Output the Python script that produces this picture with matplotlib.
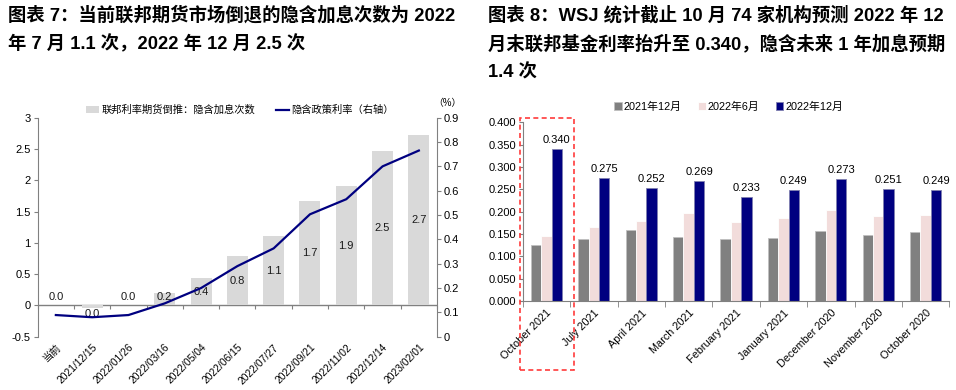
import matplotlib
matplotlib.use('Agg')
import matplotlib.pyplot as plt
from matplotlib.patches import Rectangle, Patch
from matplotlib.lines import Line2D
import numpy as np

plt.rcParams['font.family'] = ['Liberation Sans', 'Noto Sans CJK SC']

# ---------------- Left chart data ----------------
dates = ['当前', '2021/12/15', '2022/01/26', '2022/03/16', '2022/05/04', '2022/06/15',
         '2022/07/27', '2022/09/21', '2022/11/02', '2022/12/14', '2023/02/01']
hikes = [0.0, -0.04, 0.0, 0.20, 0.44, 0.79, 1.11, 1.67, 1.91, 2.47, 2.73]
implied_rate = [0.089, 0.080, 0.089, 0.137, 0.200, 0.290, 0.363, 0.503, 0.565, 0.700, 0.765]
left_yticks = [-0.5, 0, 0.5, 1, 1.5, 2, 2.5, 3]
right_yticks = [0, 0.1, 0.2, 0.3, 0.4, 0.5, 0.6, 0.7, 0.8, 0.9]

# ---------------- Right chart data ----------------
meetings = ['October 2021', 'July 2021', 'April 2021', 'March 2021', 'February 2021',
            'January 2021', 'December 2020', 'November 2020', 'October 2020']
dec2021 = [0.125, 0.138, 0.160, 0.143, 0.139, 0.142, 0.157, 0.147, 0.154]
jun2022 = [0.146, 0.166, 0.179, 0.198, 0.178, 0.186, 0.204, 0.190, 0.193]
dec2022 = [0.340, 0.275, 0.252, 0.269, 0.233, 0.249, 0.273, 0.251, 0.249]
series_names = ['2021年12月', '2022年6月', '2022年12月']
series_colors = ['#808080', '#F2DCDB', '#000080']

GRAY = '#808080'
W, H = 956, 390
fig = plt.figure(figsize=(W / 100, H / 100), dpi=100)

# Titles
title_kw = dict(fontsize=13.2, fontweight='bold', family=['Liberation Sans', 'Noto Sans CJK SC'],
                va='center', ha='left', color='#000000')
fig.text(8 / W, 1 - 15 / H, '图表 7：当前联邦期货市场倒退的隐含加息次数为 2022', **title_kw)
fig.text(8 / W, 1 - 44 / H, '年 7 月 1.1 次，2022 年 12 月 2.5 次', **title_kw)
fig.text(488 / W, 1 - 15 / H, '图表 8：WSJ 统计截止 10 月 74 家机构预测 2022 年 12', **title_kw)
fig.text(488 / W, 1 - 44 / H, '月末联邦基金利率抬升至 0.340，隐含未来 1 年加息预期', **title_kw)
fig.text(488 / W, 1 - 73 / H, '1.4 次', **title_kw)

# ---------------- Left chart ----------------
axL = fig.add_axes([37.7 / W, 1 - 336.7 / H, (437 - 37.7) / W, (336.7 - 117.7) / H])
x = np.arange(len(dates))
axL.bar(x, hikes, width=0.58, color='#D9D9D9', zorder=2)
axL.set_xlim(-0.5, len(dates) - 0.5)
axL.set_ylim(-0.5, 3)
axL.set_yticks(left_yticks)
axL.set_yticklabels([f'{v:g}' for v in left_yticks])
axL.axhline(0, color=GRAY, lw=1, zorder=1)
for s in ['top', 'right', 'bottom']:
    axL.spines[s].set_visible(False)
axL.spines['left'].set_color(GRAY)
axL.tick_params(axis='y', length=3, color=GRAY, labelsize=8, pad=2)
axL.set_xticks(x)
axL.set_xticklabels(dates, rotation=45, ha='right', rotation_mode='anchor', fontsize=7.4)
axL.tick_params(axis='x', length=0, pad=4)

# tick marks on zero line at category boundaries
zpos = (0 - (-0.5)) / 3.5
sec = axL.secondary_xaxis(zpos)
sec.set_xticks(np.arange(-0.5, len(dates), 1.0))
sec.tick_params(axis='x', direction='out', length=3, color=GRAY, labelbottom=False, labeltop=False,
                bottom=True, top=False)
sec.xaxis.set_ticks_position('bottom')
sec.set_xticklabels([])
sec.spines['bottom'].set_visible(False)
sec.spines['top'].set_visible(False)

for xi, v in zip(x, hikes):
    lab = f'{round(v, 1) + 0.0:.1f}'
    if v < 0:
        ypos = -0.13
    else:
        ypos = max(v / 2, 0.13)
    axL.text(xi, ypos, lab, ha='center', va='center', fontsize=8, color='#1a1a1a', zorder=5)

axR = axL.twinx()
axR.plot(x, implied_rate, color='#000080', lw=1.6, zorder=4)
axR.set_ylim(0, 0.9)
axR.set_yticks(right_yticks)
axR.set_yticklabels(['0'] + [f'{v:.1f}' for v in right_yticks[1:]])
for s in ['top', 'left', 'bottom']:
    axR.spines[s].set_visible(False)
axR.spines['right'].set_color(GRAY)
axR.tick_params(axis='y', length=3, color=GRAY, labelsize=8, pad=2)
fig.text(447 / W, 1 - 103 / H, '（%）', fontsize=7, ha='center', va='center')

handlesL = [Patch(facecolor='#D9D9D9', edgecolor='none'),
            Line2D([], [], color='#000080', lw=1.6)]
fig.legend(handlesL, ['联邦利率期货倒推：隐含加息次数', '隐含政策利率（右轴）'],
           loc='center left', bbox_to_anchor=(86 / W, 1 - 110 / H), ncol=2, frameon=False,
           fontsize=7.4, handlelength=1.3, handleheight=0.6, handletextpad=0.2,
           columnspacing=2.0, borderaxespad=0, borderpad=0)

# ---------------- Right chart ----------------
ax2 = fig.add_axes([522.7 / W, 1 - 301 / H, (949.3 - 522.7) / W, (301 - 122.4) / H])
xm = np.arange(len(meetings))
bw = 0.22
for i, (vals, col) in enumerate(zip([dec2021, jun2022, dec2022], series_colors)):
    ec = '#C0C0C0' if i == 0 else ('#FFFFFF' if i == 1 else '#8080B0')
    ax2.bar(xm + (i - 1) * bw, vals, width=bw, color=col, edgecolor=ec, linewidth=0.6,
            label=series_names[i], zorder=2)
for xi, v in zip(xm, dec2022):
    ax2.annotate(f'{v:.3f}', (xi + bw, v), xytext=(0, 3), textcoords='offset points',
                 ha='center', va='bottom', fontsize=8)
ax2.set_xlim(-0.5, len(meetings) - 0.5)
ax2.set_ylim(0, 0.4)
ax2.set_yticks(np.arange(0, 0.401, 0.05))
ax2.set_yticklabels([f'{v:.3f}' for v in np.arange(0, 0.401, 0.05)])
ax2.tick_params(axis='y', length=3, color=GRAY, labelsize=8, pad=2)
for s in ['top', 'right']:
    ax2.spines[s].set_visible(False)
ax2.spines['left'].set_color(GRAY)
ax2.spines['bottom'].set_color(GRAY)
ax2.set_xticks(np.arange(-0.5, len(meetings), 1.0), minor=True)
ax2.set_xticks(xm)
ax2.set_xticklabels(meetings, rotation=45, ha='right', rotation_mode='anchor', fontsize=7.8)
ax2.tick_params(axis='x', which='major', length=0, pad=5)
ax2.tick_params(axis='x', which='minor', length=4, color=GRAY)

rect = Rectangle((-0.557, -0.155), 1.146, 0.564, fill=False, edgecolor='#FF3B3B',
                 linestyle=(0, (3, 2)), lw=1.2, clip_on=False, zorder=6)
ax2.add_patch(rect)

ax2.legend(loc='center left', bbox_to_anchor=(614 / W, 1 - 106.7 / H),
           bbox_transform=fig.transFigure, ncol=3, frameon=False, fontsize=7.8,
           handlelength=0.7, handleheight=0.7, handletextpad=0.2, columnspacing=1.5,
           borderaxespad=0, borderpad=0)

fig.savefig('out.png', dpi=100)
